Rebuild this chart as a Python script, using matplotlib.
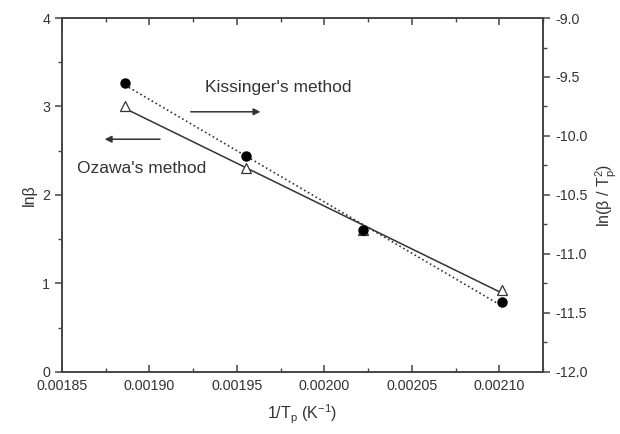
import numpy as np
import matplotlib
matplotlib.use("Agg")
import matplotlib.pyplot as plt
from matplotlib.ticker import MultipleLocator, FormatStrFormatter

plt.rcParams['font.family'] = ['Liberation Sans', 'DejaVu Sans']

# Reciprocal peak temperature (1/K)
inv_tp = [0.001886, 0.001955, 0.002022, 0.0021015]
# Ozawa: ln(beta)
ln_beta = [3.00, 2.31, 1.60, 0.93]
# Kissinger: ln(beta / Tp^2)
ln_beta_tp2 = [-9.55, -10.17, -10.80, -11.41]

ink = '#333333'

fig = plt.figure(figsize=(6.2, 4.34), dpi=100)
ax = fig.add_axes([0.100, 0.143, 0.776, 0.8155])
ax2 = ax.twinx()

x = np.array(inv_tp)
xs = np.array([x.min(), x.max()])

# Ozawa: open triangles with linear fit (solid)
p1 = np.polyfit(x, ln_beta, 1)
ax.plot(xs, np.polyval(p1, xs), '-', color=ink, lw=1.1, zorder=2)
ax.plot(x, ln_beta, '^', ms=7, mfc='white', mec=ink, mew=0.9, zorder=3)

# Kissinger: filled circles with linear fit (dotted)
p2 = np.polyfit(x, ln_beta_tp2, 1)
ax2.plot(xs, np.polyval(p2, xs), ':', color=ink, lw=1.2, zorder=2)
ax2.plot(x, ln_beta_tp2, 'o', ms=6.5, mfc='black', mec='black', zorder=3)

ax.set_xlim(0.00185, 0.002125)
ax.set_ylim(0, 4)
ax2.set_ylim(-12.0, -9.0)

ax.xaxis.set_major_locator(MultipleLocator(0.00005))
ax.xaxis.set_minor_locator(MultipleLocator(0.000025))
ax.xaxis.set_major_formatter(FormatStrFormatter('%.5f'))
ax.yaxis.set_major_locator(MultipleLocator(1))
ax.yaxis.set_minor_locator(MultipleLocator(0.5))
ax2.yaxis.set_major_locator(MultipleLocator(0.5))
ax2.yaxis.set_minor_locator(MultipleLocator(0.25))
ax2.yaxis.set_major_formatter(FormatStrFormatter('%.1f'))

for a in (ax, ax2):
    for s in a.spines.values():
        s.set_color('#444444')
        s.set_linewidth(1.2)

ax.tick_params(axis='x', which='both', direction='in', top=True, bottom=True,
               color='#444444', labelcolor=ink, labelsize=10.3, pad=5)
ax.tick_params(axis='x', which='major', length=5, width=1.1)
ax.tick_params(axis='x', which='minor', length=3, width=1.0)
ax.tick_params(axis='y', which='both', direction='out', color='#444444',
               labelcolor=ink, labelsize=10.3)
ax.tick_params(axis='y', which='major', length=5, width=1.1)
ax.tick_params(axis='y', which='minor', length=3, width=1.0)
ax2.tick_params(axis='y', which='both', direction='out', color='#444444',
                labelcolor=ink, labelsize=10.3)
ax2.tick_params(axis='y', which='major', length=5, width=1.1)
ax2.tick_params(axis='y', which='minor', length=3, width=1.0)

ax.set_xlabel(r'1/T$_\mathregular{p}$ (K$^\mathregular{-1}$)', fontsize=11.5, color=ink, labelpad=7)
ax.set_ylabel('lnβ', fontsize=11.5, color=ink, labelpad=4)
ax2.set_ylabel(r'ln(β / T$_\mathregular{p}^\mathregular{2}$)', fontsize=11.5, color=ink, labelpad=5)

# Annotations with arrows pointing to the relevant axis
ax.text(0.0019316, 3.22, "Kissinger's method", fontsize=12.5, color=ink, va='center')
ax.annotate('', xy=(0.001965, 2.94), xytext=(0.001922, 2.94),
            arrowprops=dict(arrowstyle='-|>', color=ink, lw=1.1, mutation_scale=10))
ax.text(0.0018586, 2.30, "Ozawa's method", fontsize=12.5, color=ink, va='center')
ax.annotate('', xy=(0.0018728, 2.63), xytext=(0.0019076, 2.63),
            arrowprops=dict(arrowstyle='-|>', color=ink, lw=1.1, mutation_scale=10))

fig.savefig('out.png', dpi=100)
